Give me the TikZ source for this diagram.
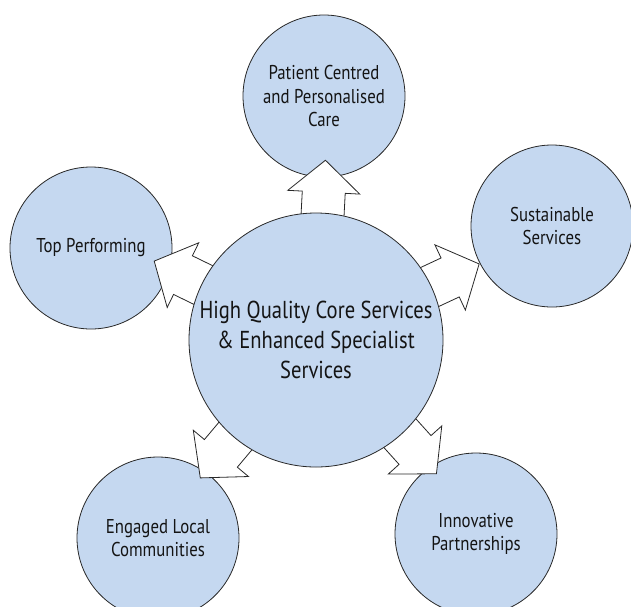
\documentclass[tikz,border=0pt]{standalone}
\usepackage{fontspec}
\setmainfont{PT Sans}[FakeStretch=0.84]
\usetikzlibrary{calc}
\definecolor{bluefill}{RGB}{197,216,240}
\definecolor{edge}{RGB}{40,40,40}
\definecolor{ink}{RGB}{20,20,20}
\begin{document}
\begin{tikzpicture}[x=1pt,y=-1pt,
  bubble/.style={circle,draw=edge,line width=0.8pt,fill=bluefill,inner sep=0pt,
    minimum size=162pt,align=center,text=ink,font=\fontsize{20}{23.5}\selectfont},
  hub/.style={bubble,minimum size=254pt,font=\fontsize{24.5}{30}\selectfont},
  blockarrow/.style={draw=edge,line width=0.8pt,fill=white,line join=miter}]
\useasboundingbox (0,0) rectangle (631,606);
\node[bubble] (T)  at (324,96)  {Patient Centred\\and Personalised\\Care};
\node[bubble] (TP) at (91,248)  {Top Performing};
\node[bubble] (S)  at (552,226) {Sustainable\\Services};
\node[bubble] (E)  at (158,538) {Engaged Local\\Communities};
\node[bubble] (I)  at (476,534) {Innovative\\Partnerships};
\coordinate (C) at (316,340);
\foreach \a in {-87,-154,-25,130,48} {
  \draw[blockarrow] ($(C)+(\a:100)+(\a+90:-21.5)$) -- ($(C)+(\a:148)+(\a+90:-21.5)$)
    -- ($(C)+(\a:148)+(\a+90:-36)$) -- ($(C)+(\a:180)$)
    -- ($(C)+(\a:148)+(\a+90:36)$) -- ($(C)+(\a:148)+(\a+90:21.5)$)
    -- ($(C)+(\a:100)+(\a+90:21.5)$) -- cycle;
}
\node[hub] (H) at (C) {High Quality Core Services\\\& Enhanced Specialist\\Services};
\end{tikzpicture}
\end{document}
